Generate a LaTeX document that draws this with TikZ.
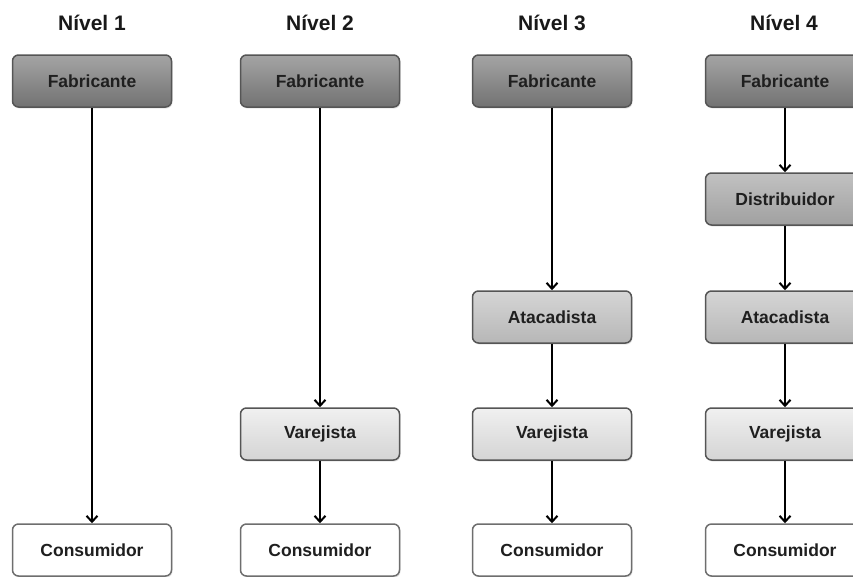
\documentclass[tikz,border=0pt]{standalone}
\usepackage{fontspec}
\setmainfont{Liberation Sans}
\usetikzlibrary{arrows.meta,shadows}

\definecolor{fabC}{HTML}{868686}
\definecolor{disC}{HTML}{B2B2B2}
\definecolor{ataC}{HTML}{CBCBCB}
\definecolor{varC}{HTML}{E4E4E4}
\definecolor{edgeC}{HTML}{555555}

\tikzset{
  stage/.style={rectangle, rounded corners=6pt, minimum width=159pt, minimum height=52pt,
    draw=edgeC, line width=1.5pt, font=\fontsize{17.5}{19}\selectfont\bfseries,
    text=black!88, drop shadow={opacity=0.2, shadow xshift=1pt, shadow yshift=-1.5pt}},
  fab/.style={stage, top color=fabC!75!white, bottom color=fabC!85!black},
  dis/.style={stage, top color=disC!80!white, bottom color=disC!90!black},
  ata/.style={stage, top color=ataC!80!white, bottom color=ataC!90!black},
  vare/.style={stage, top color=varC!55!white, bottom color=varC!93!black},
  cons/.style={stage, top color=white, bottom color=white, draw=edgeC!85},
  title/.style={font=\fontsize{21}{23}\selectfont\bfseries, text=black!90},
  flow/.style={-{Straight Barb[length=6pt,width=11pt,line width=2pt]}, line width=2pt, black}
}

\begin{document}
\begin{tikzpicture}[x=1pt,y=-1pt]
  \useasboundingbox (0,0) rectangle (853,576);

  % column headings
  \node[title] (t1) at (92,23)  {Nível 1};
  \node[title] (t2) at (320,23) {Nível 2};
  \node[title] (t3) at (552,23) {Nível 3};
  \node[title] (t4) at (784,23) {Nível 4};

  % level 1
  \node[fab]  (f1) at (92,81)   {Fabricante};
  \node[cons] (c1) at (92,550)  {Consumidor};
  \draw[flow] (f1) -- (c1);

  % level 2
  \node[fab]  (f2) at (320,81)  {Fabricante};
  \node[vare] (v2) at (320,434) {Varejista};
  \node[cons] (c2) at (320,550) {Consumidor};
  \draw[flow] (f2) -- (v2);
  \draw[flow] (v2) -- (c2);

  % level 3
  \node[fab]  (f3) at (552,81)  {Fabricante};
  \node[ata]  (a3) at (552,317) {Atacadista};
  \node[vare] (v3) at (552,434) {Varejista};
  \node[cons] (c3) at (552,550) {Consumidor};
  \draw[flow] (f3) -- (a3);
  \draw[flow] (a3) -- (v3);
  \draw[flow] (v3) -- (c3);

  % level 4
  \node[fab]  (f4) at (785,81)  {Fabricante};
  \node[dis]  (d4) at (785,199) {Distribuidor};
  \node[ata]  (a4) at (785,317) {Atacadista};
  \node[vare] (v4) at (785,434) {Varejista};
  \node[cons] (c4) at (785,550) {Consumidor};
  \draw[flow] (f4) -- (d4);
  \draw[flow] (d4) -- (a4);
  \draw[flow] (a4) -- (v4);
  \draw[flow] (v4) -- (c4);
\end{tikzpicture}
\end{document}
